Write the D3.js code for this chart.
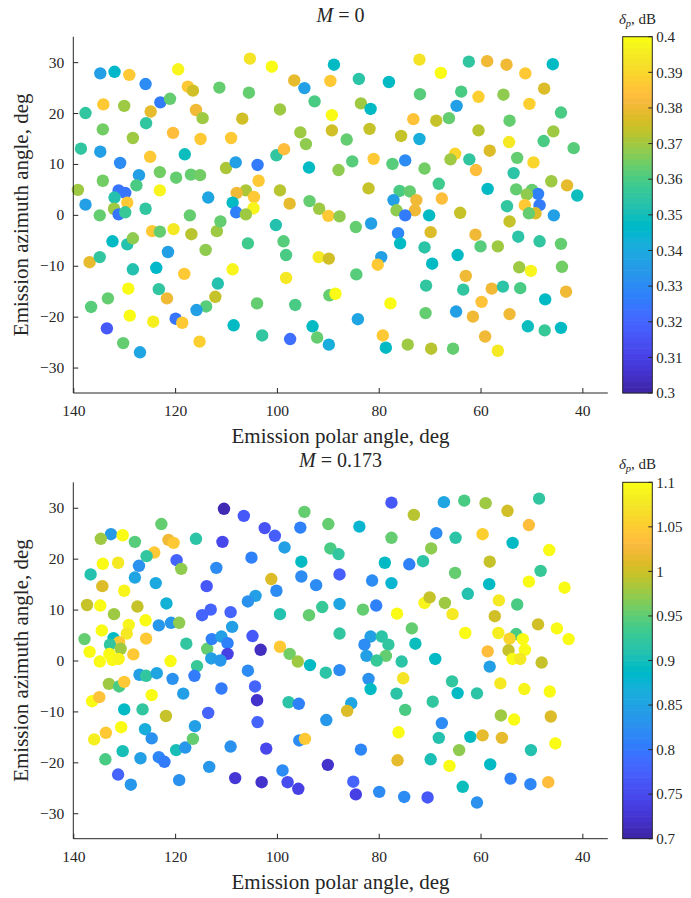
<!DOCTYPE html>
<html><head><meta charset="utf-8">
<script src="https://cdn.jsdelivr.net/npm/d3@7"></script>
<style>
body{margin:0;background:#fff}
svg{display:block}
text{font-family:"Liberation Serif","Times New Roman",serif;fill:#262626}
</style>
</head><body>
<svg id="c" width="691" height="898"></svg>
<script>
// ---------- Panel 1 data (M = 0) ----------
const polar0 = [
137.6,138.5,139.1,137.6,134.7,131.9,129.0,125.8,134.1,130.0,
134.2,128.3,134.7,130.8,134.2,127.1,127.6,131.1,129.8,131.9,
129.4,132.0,131.1,129.8,134.8,125.8,125.7,124.8,122.9,121.0,
119.4,117.5,116.5,115.9,114.6,120.4,115.0,124.9,123.0,119.8,
118.1,116.9,115.1,123.0,113.5,117.1,111.3,105.5,105.3,101.0,
96.6,94.6,92.6,89.5,88.8,106.8,99.4,109.0,95.4,94.3,
89.2,89.2,100.1,98.6,110.0,108.1,103.8,93.7,87.9,103.6,
106.1,107.9,104.5,104.6,108.7,108.0,106.1,99.4,97.5,93.6,
91.7,89.9,87.7,
136.8,134.8,132.3,129.4,128.3,128.3,124.5,123.0,120.3,116.8,
111.8,111.1,121.4,123.7,118.2,114.0,105.7,100.2,98.7,98.2,
91.8,89.8,108.7,111.6,112.1,113.9,115.8,119.9,118.6,123.2,
121.6,124.3,115.2,129.2,133.2,136.5,128.9,133.4,130.2,126.9,
108.5,102.9,97.4,93.0,92.1,89.8,103.9,96.4,98.2,89.7,
88.5,
83.9,78.0,72.0,67.8,62.3,58.7,54.9,51.2,45.8,47.5,
50.4,55.5,60.4,63.8,71.9,83.5,81.6,81.8,86.3,75.6,
73.2,68.7,66.2,64.7,72.0,60.4,54.3,44.2,45.7,47.6,
41.7,54.4,58.2,65.0,65.9,62.2,60.9,52.8,49.6,53.5,
81.0,85.2,77.3,74.8,71.0,82.0,68.2,58.6,46.1,43.0,
41.0,53.0,49.9,48.7,50.9,48.4,51.3,54.8,49.2,50.5,
45.6,75.9,73.9,77.1,72.6,76.5,72.9,74.8,70.1,67.6,
64.0,
81.5,54.3,84.5,76.2,75.8,69.8,71.0,69.5,79.5,80.2,
84.4,64.5,61.0,60.0,56.6,52.6,48.4,44.2,52.4,50.1,
44.0,62.9,70.7,63.4,57.8,55.6,52.2,43.2,47.3,59.8,
77.7,70.8,64.8,61.5,54.3,84.1,50.7,47.4,44.2,79.2,
78.6,74.3,69.7,65.4,59.1,56.6];
const azim0 = [
20.0,13.0,4.9,2.0,27.8,28.1,27.5,25.7,21.7,21.4,
16.8,15.1,12.4,10.2,6.7,7.8,5.8,4.8,4.3,3.4,
2.4,1.2,0.1,0.5,-0.1,1.2,18.0,20.3,22.1,22.8,
28.6,25.2,24.4,20.6,19.0,16.1,14.9,11.4,8.4,7.3,
11.9,7.9,7.8,4.8,3.4,-0.1,25.0,24.0,30.7,29.1,
26.4,24.9,22.3,26.3,29.5,18.9,20.7,15.1,16.2,13.9,
19.6,16.6,11.7,12.9,9.2,10.3,9.8,9.3,8.8,6.7,
4.8,4.3,3.5,1.3,2.4,0.5,0.1,4.8,2.2,2.7,
1.2,-0.2,-0.3,
-9.3,-8.3,-5.2,-5.8,-4.6,-10.7,-3.2,-3.3,-2.8,-3.8,
-3.2,-1.3,-7.3,-10.4,-11.6,-6.9,-5.6,-2.0,-5.2,-7.9,
-8.3,-8.6,-10.7,-13.5,-16.1,-18.0,-18.7,-20.4,-21.2,-14.6,
-16.4,-21.0,-24.9,-14.5,-16.4,-18.1,-19.8,-22.3,-25.2,-27.0,
-21.7,-23.7,-24.4,-21.9,-24.1,-25.5,-17.4,-17.7,-12.4,-15.8,
-15.5,
26.7,26.1,30.5,27.9,30.1,30.2,29.5,27.8,29.6,24.8,
21.8,23.6,23.2,24.2,23.7,21.9,20.8,16.9,14.8,15.5,
18.8,18.5,19.0,21.4,14.9,16.6,18.5,20.1,16.4,14.5,
13.1,14.3,12.6,12.0,10.9,10.9,8.8,11.2,10.3,8.2,
11.0,10.5,10.0,10.7,9.1,5.2,6.1,5.1,6.6,5.8,
3.8,5.0,4.9,4.1,4.0,1.9,1.9,1.7,0.3,0.3,
-0.1,4.7,4.6,2.9,2.9,0.9,0.9,-0.1,-0.1,3.2,
0.4,
-1.7,-1.3,-2.4,-3.6,-5.6,-3.4,-6.4,-9.6,-8.3,-9.8,
-11.7,-7.9,-3.9,-6.2,-6.2,-4.3,-5.2,-5.7,-10.3,-11.0,
-10.2,-12.0,-13.9,-14.7,-14.5,-14.1,-14.4,-15.1,-16.6,-17.1,
-17.4,-19.3,-19.0,-20.0,-19.5,-20.5,-21.9,-22.7,-22.2,-23.7,
-26.1,-25.5,-26.3,-26.3,-23.9,-26.7];
const dp0 = [
.355,.355,.370,.337,.337,.346,.386,.330,.386,.369,
.365,.369,.337,.330,.365,.337,.360,.324,.324,.353,
.386,.370,.324,.357,.364,.356,.356,.379,.326,.363,
.398,.386,.376,.380,.369,.383,.386,.387,.365,.363,
.349,.364,.365,.398,.338,.364,.363,.363,.393,.399,
.379,.337,.360,.387,.348,.376,.370,.386,.369,.368,
.399,.376,.355,.384,.371,.337,.326,.348,.368,.386,
.371,.380,.386,.398,.347,.327,.370,.373,.379,.363,
.369,.386,.368,
.379,.355,.347,.352,.368,.352,.387,.363,.394,.372,
.370,.363,.337,.346,.386,.368,.359,.353,.361,.360,
.395,.376,.398,.353,.375,.362,.337,.324,.386,.356,
.380,.396,.388,.399,.363,.362,.399,.317,.363,.338,
.348,.356,.322,.348,.364,.341,.364,.360,.395,.363,
.399,
.354,.348,.393,.399,.356,.381,.381,.386,.348,.377,
.388,.368,.388,.360,.361,.369,.348,.374,.364,.374,
.385,.374,.364,.337,.342,.373,.363,.360,.369,.360,
.362,.394,.377,.390,.370,.355,.384,.363,.390,.354,
.386,.361,.361,.330,.365,.374,.359,.348,.370,.379,
.349,.363,.363,.328,.368,.325,.386,.356,.377,.364,
.337,.360,.364,.337,.380,.368,.380,.325,.348,.383,
.375,
.337,.374,.364,.329,.348,.377,.354,.347,.337,.386,
.361,.347,.380,.361,.369,.354,.356,.364,.369,.398,
.365,.380,.356,.356,.380,.354,.360,.380,.348,.385,
.400,.364,.337,.380,.380,.338,.350,.357,.348,.386,
.347,.370,.372,.363,.380,.395];

// ---------- Panel 2 data (M = 0.173) ----------
const polar1 = [
110.4,106.5,102.4,100.4,95.4,94.6,89.9,98.5,89.5,87.9,
122.7,115.9,110.7,121.3,120.3,124.1,125.6,119.7,118.8,111.9,
105.0,95.2,95.2,92.3,87.7,101.1,100.1,104.2,105.7,113.8,
123.8,127.9,127.1,132.6,130.3,134.6,127.9,136.6,134.2,131.2,
134.3,130.0,137.3,134.7,132.0,127.4,121.7,129.1,125.8,123.2,
120.8,119.2,114.7,113.0,109.1,108.8,99.4,93.7,91.1,87.7,
87.7,134.4,137.8,129.5,132.1,131.0,132.8,130.7,136.8,132.9,
134.8,132.3,131.1,128.2,125.7,120.9,117.8,113.7,112.8,110.9,
109.7,109.7,112.9,111.1,104.8,103.2,99.4,97.5,95.9,93.5,
90.4,87.7,105.7,115.7,
136.3,134.9,133.0,131.0,130.0,127.0,125.7,123.6,120.5,116.2,
118.4,124.6,130.0,126.4,121.8,130.6,133.6,135.9,125.9,124.6,
130.3,133.7,126.8,123.2,122.1,119.8,118.0,116.5,116.1,113.5,
110.9,104.3,103.9,103.8,102.1,109.1,113.3,119.2,108.2,103.0,
98.9,97.9,95.8,128.7,131.2,97.7,95.7,95.6,94.5,90.3,
90.0,
77.5,73.1,67.2,63.2,59.0,54.7,48.5,50.5,59.6,53.7,
46.5,48.2,43.5,50.5,58.2,58.3,65.0,62.5,69.7,71.3,
74.0,78.8,81.3,77.5,83.8,77.5,68.7,64.9,83.1,80.5,
76.4,71.0,70.0,67.0,65.5,56.4,57.2,52.8,48.7,45.0,
42.7,63.0,56.5,53.0,54.3,51.7,51.3,54.5,58.6,53.7,
52.2,48.0,73.5,72.8,68.9,75.5,81.6,79.4,82.8,78.1,
82.4,78.6,80.4,58.2,
82.0,81.6,85.4,86.2,75.2,76.5,74.8,69.4,65.6,64.5,
60.7,56.1,51.4,46.4,56.0,53.4,46.2,67.6,76.1,68.2,
62.0,59.6,55.8,64.2,83.5,76.3,69.8,66.1,58.1,50.1,
45.3,85.0,84.5,79.9,75.0,70.4,63.5,60.7,54.1,50.2,
46.7];
const azim1 = [
29.8,28.4,26.0,24.5,26.1,29.2,26.8,22.2,22.0,20.9,
26.8,23.9,23.3,23.7,23.1,21.2,20.5,19.7,18.0,18.2,
20.2,19.4,16.5,14.8,16.9,16.0,13.7,12.7,11.6,14.6,
15.2,16.3,18.6,24.8,24.6,23.9,23.3,16.9,19.0,19.2,
14.6,13.7,10.9,10.8,9.1,10.6,11.2,7.0,7.9,6.9,
7.4,7.4,8.9,10.0,9.5,6.6,9.1,8.9,10.5,11.1,
5.3,5.9,4.2,5.3,4.4,3.6,3.1,2.3,1.7,1.3,
-0.2,0.1,0.3,1.2,4.3,-0.1,3.3,2.3,4.2,4.7,
3.4,1.3,0.4,0.0,4.8,2.1,2.7,1.3,-0.2,-0.9,
-2.4,-1.9,-2.0,-1.1,
-8.0,-7.2,-4.6,-5.1,-4.2,-2.8,-3.0,-2.5,-3.6,-3.0,
-6.5,-6.8,-9.6,-9.6,-10.9,-13.1,-14.2,-15.5,-13.5,-15.3,
-17.8,-19.4,-19.2,-19.0,-19.9,-17.6,-17.1,-15.4,-12.9,-10.3,
-5.5,-5.1,-7.8,-12.1,-17.3,-16.9,-20.9,-23.5,-23.1,-23.9,
-21.6,-23.9,-25.2,-24.4,-22.4,-8.2,-8.5,-15.7,-15.4,-11.7,
-20.5,
31.0,28.6,31.1,31.4,30.9,29.4,31.8,26.6,24.8,23.1,
21.7,17.6,14.3,15.5,19.4,15.0,17.2,13.1,22.0,19.5,
18.9,19.2,15.7,15.2,26.3,24.1,25.0,24.1,10.0,10.8,
9.2,11.3,12.4,11.3,9.1,11.8,8.7,11.0,7.1,6.3,
4.2,5.4,5.4,5.2,4.3,4.2,2.1,2.0,1.8,0.3,
0.3,-0.4,6.3,3.3,0.3,-0.2,4.7,4.7,3.1,3.1,
0.9,0.9,0.0,-1.2,
-3.6,-5.6,-8.4,-9.9,-3.5,-6.5,-9.7,-8.1,-4.1,-6.4,
-6.45,-4.5,-5.6,-6.1,-10.8,-11.6,-11.0,-12.3,-14.1,-15.2,
-15.0,-14.7,-15.2,-17.6,-17.5,-19.6,-19.4,-20.7,-20.4,-17.6,
-16.3,-23.8,-26.3,-25.8,-26.8,-26.9,-24.8,-27.9,-23.2,-24.3,
-23.9];
const dp1 = [
.712,.768,.760,.772,.812,.956,.956,.848,.940,.924,
.956,.916,.748,1.020,1.044,1.044,.920,.780,.972,.820,
.808,.892,.824,.820,.772,1.008,.824,.844,.828,.768,
.860,.852,.828,.840,1.100,.980,.944,.912,1.100,1.080,
1.008,1.088,1.000,1.100,.980,.996,.872,1.088,1.096,.832,
.832,.972,.776,.776,.780,.848,.912,.956,.928,.852,
.924,1.096,.952,1.080,.888,1.044,.920,.980,1.096,1.096,
1.096,1.100,1.092,1.044,1.048,1.096,.924,.952,.808,.848,
.808,.740,.844,.832,.768,.716,1.044,.960,.980,.888,
.916,.824,.824,.928,
1.100,1.040,.980,.940,1.048,.844,.920,.852,.828,.800,
.848,1.100,.888,.924,.996,1.100,1.044,1.084,.868,.828,
.900,.940,.848,.816,.804,.900,.832,.956,.848,.780,
.800,.780,.720,.780,.748,.828,.832,.828,.728,.724,
.820,.752,.740,.832,.780,.916,.808,.824,1.044,.832,
.724,
.768,.992,.852,.940,.980,1.004,.924,1.032,1.052,.892,
1.100,.928,1.100,1.100,.996,.888,.956,.912,.972,.916,
.808,.892,.824,.880,.880,.956,.820,.916,.956,.808,
1.100,1.092,.996,.980,1.080,1.080,1.004,.940,1.004,1.096,
1.096,1.100,1.084,.940,1.060,1.096,1.096,.996,1.036,1.096,
1.080,.996,.956,.896,.892,.916,.848,.916,.820,.920,
.848,.956,.928,.848,
.828,.892,.856,1.008,1.072,.916,.940,.920,.924,.892,
.916,1.080,1.092,1.100,.980,1.096,1.008,.820,1.100,.912,
.892,1.016,1.016,.972,.816,1.016,.900,1.100,.888,.908,
1.100,.780,.740,.820,.824,.768,.896,.828,.812,.816,
1.032];

// ---------- Axes / ticks ----------
const xDomain = [140, 35];
const yDomain = [-35, 35];
const xTicks = [140, 120, 100, 80, 60, 40];
const yTicks = [-30, -20, -10, 0, 10, 20, 30];
const cTicks0 = [0.3,0.31,0.32,0.33,0.34,0.35,0.36,0.37,0.38,0.39,0.4];
const cTickLabels0 = ["0.3","0.31","0.32","0.33","0.34","0.35","0.36","0.37","0.38","0.39","0.4"];
const cTicks1 = [0.7,0.75,0.8,0.85,0.9,0.95,1.0,1.05,1.1];
const cTickLabels1 = ["0.7","0.75","0.8","0.85","0.9","0.95","1","1.05","1.1"];
const titles = ["0", "0.173"];

// parula (64)
const parula = [
[0.2422,0.1504,0.6603],[0.2504,0.1650,0.7076],[0.2578,0.1818,0.7511],[0.2647,0.1978,0.7952],
[0.2706,0.2147,0.8364],[0.2751,0.2342,0.8710],[0.2783,0.2559,0.8991],[0.2803,0.2782,0.9221],
[0.2813,0.3006,0.9414],[0.2810,0.3228,0.9579],[0.2795,0.3447,0.9717],[0.2760,0.3667,0.9829],
[0.2699,0.3892,0.9906],[0.2602,0.4123,0.9952],[0.2440,0.4358,0.9988],[0.2206,0.4603,0.9973],
[0.1963,0.4847,0.9892],[0.1834,0.5074,0.9798],[0.1786,0.5289,0.9682],[0.1764,0.5499,0.9520],
[0.1687,0.5703,0.9359],[0.1540,0.5902,0.9218],[0.1460,0.6091,0.9079],[0.1380,0.6276,0.8973],
[0.1248,0.6459,0.8883],[0.1113,0.6635,0.8763],[0.0952,0.6798,0.8598],[0.0689,0.6948,0.8394],
[0.0297,0.7082,0.8163],[0.0036,0.7203,0.7917],[0.0067,0.7312,0.7660],[0.0433,0.7411,0.7394],
[0.0964,0.7500,0.7120],[0.1408,0.7584,0.6842],[0.1717,0.7670,0.6554],[0.1938,0.7758,0.6251],
[0.2161,0.7843,0.5923],[0.2470,0.7918,0.5567],[0.2906,0.7973,0.5188],[0.3406,0.8008,0.4789],
[0.3909,0.8029,0.4354],[0.4456,0.8024,0.3909],[0.5044,0.7993,0.3480],[0.5616,0.7942,0.3045],
[0.6174,0.7876,0.2612],[0.6720,0.7793,0.2227],[0.7242,0.7698,0.1910],[0.7738,0.7598,0.1646],
[0.8203,0.7498,0.1535],[0.8634,0.7406,0.1596],[0.9035,0.7330,0.1774],[0.9393,0.7288,0.2100],
[0.9728,0.7298,0.2394],[0.9956,0.7434,0.2371],[0.9970,0.7659,0.2199],[0.9952,0.7893,0.2028],
[0.9892,0.8136,0.1885],[0.9786,0.8386,0.1766],[0.9676,0.8639,0.1643],[0.9610,0.8890,0.1537],
[0.9597,0.9135,0.1423],[0.9628,0.9373,0.1265],[0.9691,0.9606,0.1064],[0.9769,0.9839,0.0805]];
const parulaHex = parula.map(c => d3.rgb(c[0]*255, c[1]*255, c[2]*255).formatHex());

const svg = d3.select("#c");
const axCol = "#262626";
const L = 73.3, R = 607.8;
const panels = [
  {top: 36.7, bottom: 393, polar: polar0, azim: azim0, dp: dp0, cmin: 0.3, cmax: 0.4, ct: cTicks0, cl: cTickLabels0, title: titles[0]},
  {top: 482.3, bottom: 838.7, polar: polar1, azim: azim1, dp: dp1, cmin: 0.7, cmax: 1.1, ct: cTicks1, cl: cTickLabels1, title: titles[1]}
];

panels.forEach(p => {
  const x = d3.scaleLinear().domain(xDomain).range([L, R]);
  const y = d3.scaleLinear().domain(yDomain).range([p.bottom, p.top]);
  const cidx = v => Math.max(0, Math.min(63, Math.floor((v - p.cmin) / (p.cmax - p.cmin) * 64)));
  const g = svg.append("g");

  // points
  g.append("g").selectAll("circle")
    .data(d3.range(p.polar.length))
    .join("circle")
    .attr("cx", i => x(p.polar[i]))
    .attr("cy", i => y(p.azim[i]))
    .attr("r", 6.2)
    .attr("fill", i => parulaHex[cidx(p.dp[i])]);

  // axes
  const xa = g.append("g").attr("transform", `translate(0,${p.bottom})`)
    .call(d3.axisBottom(x).tickValues(xTicks).tickSize(-5).tickSizeOuter(0).tickPadding(12));
  const ya = g.append("g").attr("transform", `translate(${L},0)`)
    .call(d3.axisLeft(y).tickValues(yTicks).tickSize(-5).tickSizeOuter(0).tickPadding(9));
  [xa, ya].forEach(a => {
    a.select(".domain").attr("stroke", axCol).attr("stroke-width", 1);
    a.selectAll(".tick line").attr("stroke", axCol);
    a.selectAll(".tick text").style("font-size", "15.5px").attr("fill", axCol)
      .style("font-family", '"Liberation Serif", serif');
  });
  xa.select(".domain").attr("d", `M${L},0H${R}`);
  ya.select(".domain").attr("d", `M0,${p.top}V${p.bottom}`);

  // labels
  g.append("text").attr("x", (L + R) / 2).attr("y", p.bottom + 50)
    .attr("text-anchor", "middle").style("font-size", "21px").text("Emission polar angle, deg");
  g.append("text").attr("transform", `translate(28,${(p.top + p.bottom) / 2}) rotate(-90)`)
    .attr("text-anchor", "middle").style("font-size", "21px").text("Emission azimuth angle, deg");
  const t = g.append("text").attr("x", (L + R) / 2).attr("y", p.top - 15)
    .attr("text-anchor", "middle").style("font-size", "20px");
  t.append("tspan").style("font-style", "italic").text("M");
  t.append("tspan").text(" = " + p.title);

  // colorbar
  const cbx = 622.7, cbw = 29.6;
  const cy = d3.scaleLinear().domain([p.cmin, p.cmax]).range([p.bottom, p.top]);
  const bandH = (p.bottom - p.top) / 64;
  g.append("g").selectAll("rect").data(d3.range(64)).join("rect")
    .attr("x", cbx).attr("width", cbw)
    .attr("y", i => p.bottom - (i + 1) * bandH - 0.3)
    .attr("height", bandH + 0.6)
    .attr("fill", i => parulaHex[i]);
  g.append("rect").attr("x", cbx).attr("y", p.top).attr("width", cbw).attr("height", p.bottom - p.top)
    .attr("fill", "none").attr("stroke", axCol).attr("stroke-width", 1);
  p.ct.forEach((v, i) => {
    g.append("line").attr("x1", cbx + cbw - 4).attr("x2", cbx + cbw)
      .attr("y1", cy(v)).attr("y2", cy(v)).attr("stroke", axCol);
    g.append("text").attr("x", cbx + cbw + 4).attr("y", cy(v)).attr("dy", "0.35em")
      .style("font-size", "15px").text(p.cl[i]);
  });
  const ct = g.append("text").attr("x", cbx + cbw / 2).attr("y", p.top - 13)
    .attr("text-anchor", "middle").style("font-size", "15px");
  ct.append("tspan").style("font-style", "italic").text("δ");
  ct.append("tspan").style("font-style", "italic").style("font-size", "10.5px").attr("dy", 3).text("p");
  ct.append("tspan").attr("dy", -3).text(", dB");
});
</script>
</body></html>
